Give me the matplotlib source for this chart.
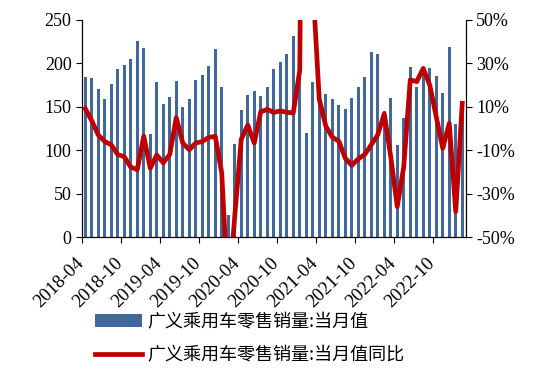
import numpy as np
import matplotlib
matplotlib.use('Agg')
import matplotlib.pyplot as plt
import matplotlib.transforms as mtransforms
from matplotlib.font_manager import FontProperties

plt.rcParams['font.family'] = ['Liberation Serif', 'DejaVu Serif']
plt.rcParams['axes.unicode_minus'] = False

# monthly retail sales (10k units), 2018-04 .. 2023-02
sales = [184, 183, 171, 159.5, 176, 193, 198, 205, 225.5, 218,
         119, 178, 153, 161, 179.5, 150, 159, 180.5, 187, 197,
         217, 173, 25, 107, 146, 164, 168, 162.5, 172.5, 193.6,
         201.7, 210.5, 232, 205, 119.5, 179, 163, 165, 159.5, 152,
         147, 160, 172.5, 184.5, 213.5, 211, 145, 160.5, 106, 137,
         196, 173, 196, 194.4, 185.6, 165.6, 219, 130, 139]

# year-on-year change (%)
yoy = [9.2, 3.6, -3, -6, -7.5, -12, -13, -17.8, -19, -3.6,
       -18.3, -12.2, -15.8, -12, 5, -6.7, -9.8, -6.7, -6, -4.1,
       -3.6, -20.5, -79, -40.4, -5, 1.6, -6.7, 7.7, 8.8, 7.4,
       8.1, 7.5, 7.1, 26.8, 364, 67, 13.5, 1.2, -4, -5.8,
       -13.7, -17, -14, -12, -7.5, -2.9, 6.8, -13, -36, -17.6,
       22.4, 21.6, 27.7, 20, 5.4, -9.1, 2.4, -38.3, 11.6]

tick_labels = ['2018-04', '2018-10', '2019-04', '2019-10', '2020-04',
               '2020-10', '2021-04', '2021-10', '2022-04', '2022-10']

bar_name = '广义乘用车零售销量:当月值'
line_name = '广义乘用车零售销量:当月值同比'

fig = plt.figure(figsize=(5.5, 3.81), dpi=100)
ax = fig.add_axes([82 / 550, 1 - 237 / 381, 383.5 / 550, 217 / 381])

x = np.arange(len(sales))
bars = ax.bar(x, sales, width=0.42, color='#41689A')
ax.set_xlim(-0.5, len(sales) - 0.5)
ax.set_ylim(0, 250)
ax.set_yticks(range(0, 251, 50))
ax.set_xticks(np.arange(0, len(sales), 6)[:len(tick_labels)] - 0.5)
ax.set_xticklabels(tick_labels, rotation=45, ha='right', fontsize=13.5)
ax.tick_params(axis='y', labelsize=13, direction='out', length=4)
ax.tick_params(axis='x', direction='out', length=4, pad=9)
ax.spines['top'].set_visible(False)

# nudge the rotated date labels a little to the right
shift = mtransforms.ScaledTranslation(5 / 100, 0, fig.dpi_scale_trans)
for lbl in ax.get_xticklabels():
    lbl.set_transform(lbl.get_transform() + shift)

ax2 = ax.twinx()
line, = ax2.plot(x, yoy, color='#C00000', lw=3.4, solid_joinstyle='round')
ax2.set_ylim(-50, 50)
ax2.set_yticks(range(-50, 51, 20))
ax2.set_yticklabels([f'{v}%' for v in range(-50, 51, 20)])
ax2.tick_params(axis='y', labelsize=13, direction='out', length=4)
ax2.spines['top'].set_visible(False)

fig.legend([bars, line], [bar_name, line_name], loc='upper left',
           bbox_to_anchor=(95 / 550, 1 - 313 / 381), frameon=False,
           borderpad=0, borderaxespad=0, handlelength=2.6, handletextpad=0.3,
           labelspacing=0.85,
           prop=FontProperties(family='Noto Sans CJK SC', size=13))

fig.savefig('out.png', dpi=100)
